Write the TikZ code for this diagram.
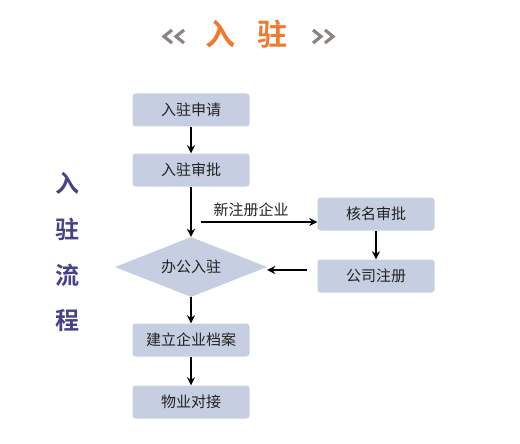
\documentclass[tikz,border=0pt]{standalone}
\usepackage{fontspec}
\setmainfont{Noto Sans CJK SC}
\newfontfamily\cjkbold{Noto Sans CJK SC Bold}
\usetikzlibrary{shapes.geometric,arrows.meta}
\definecolor{boxfill}{HTML}{C6CEE2}
\definecolor{titleor}{HTML}{EE7A2E}
\definecolor{sidepur}{HTML}{46428A}
\definecolor{chev}{HTML}{8C8480}
\definecolor{txt}{HTML}{222222}
\tikzset{
  stepbox/.style={draw=none,fill=boxfill,rounded corners=3pt,minimum width=117pt,minimum height=33pt,inner sep=0pt,font=\fontsize{15}{17}\selectfont,text=txt},
  decbox/.style={diamond,draw=none,fill=boxfill,minimum width=152pt,minimum height=60pt,inner sep=0pt,aspect=2.53,font=\fontsize{15}{17}\selectfont,text=txt},
  flow/.style={-{Stealth[length=8pt,width=8pt]},line width=1.7pt,black},
  sidech/.style={text=sidepur,font=\cjkbold\fontsize{24}{26}\selectfont},
  titlech/.style={text=titleor,font=\cjkbold\fontsize{30}{32}\selectfont},
  chevron/.style={draw=chev,line width=3.2pt,miter limit=10},
}
\begin{document}
\begin{tikzpicture}[x=1pt,y=-1pt]
\useasboundingbox (0,0) rectangle (520,444);
% title
\node[titlech] (t1) at (220,34) {入};
\node[titlech] (t2) at (272,34) {驻};
% chevrons
\draw[chevron] (172,30) -- (164,36.5) -- (172,43);
\draw[chevron] (184,30) -- (176,36.5) -- (184,43);
\draw[chevron] (313,30) -- (321,36.5) -- (313,43);
\draw[chevron] (325,30) -- (333,36.5) -- (325,43);
% side text
\node[sidech] (s1) at (68,183) {入};
\node[sidech] (s2) at (68,229) {驻};
\node[sidech] (s3) at (68,275) {流};
\node[sidech] (s4) at (68,320) {程};
% nodes
\node[stepbox] (a) at (191,110) {入驻申请};
\node[stepbox] (b) at (191,170) {入驻审批};
\node[decbox] (d) at (191,267) {办公入驻};
\node[stepbox] (h) at (376,214) {核名审批};
\node[stepbox] (g) at (376,276) {公司注册};
\node[stepbox] (e) at (191,340) {建立企业档案};
\node[stepbox] (f) at (191,402) {物业对接};
\coordinate (hs) at (201,222);
\coordinate (gs) at (307,270);
% connectors
\draw[flow] (a) -- (b);
\draw[flow] (b) -- (d);
\draw[flow] (hs) -- (h.west |- hs) node[pos=0.43,above=1pt,font=\fontsize{15}{17}\selectfont,text=txt] {新注册企业};
\draw[flow] (h) -- (g);
\draw[flow] (gs) -- (d.east |- gs);
\draw[flow] (d) -- (e);
\draw[flow] (e) -- (f);
\end{tikzpicture}
\end{document}
